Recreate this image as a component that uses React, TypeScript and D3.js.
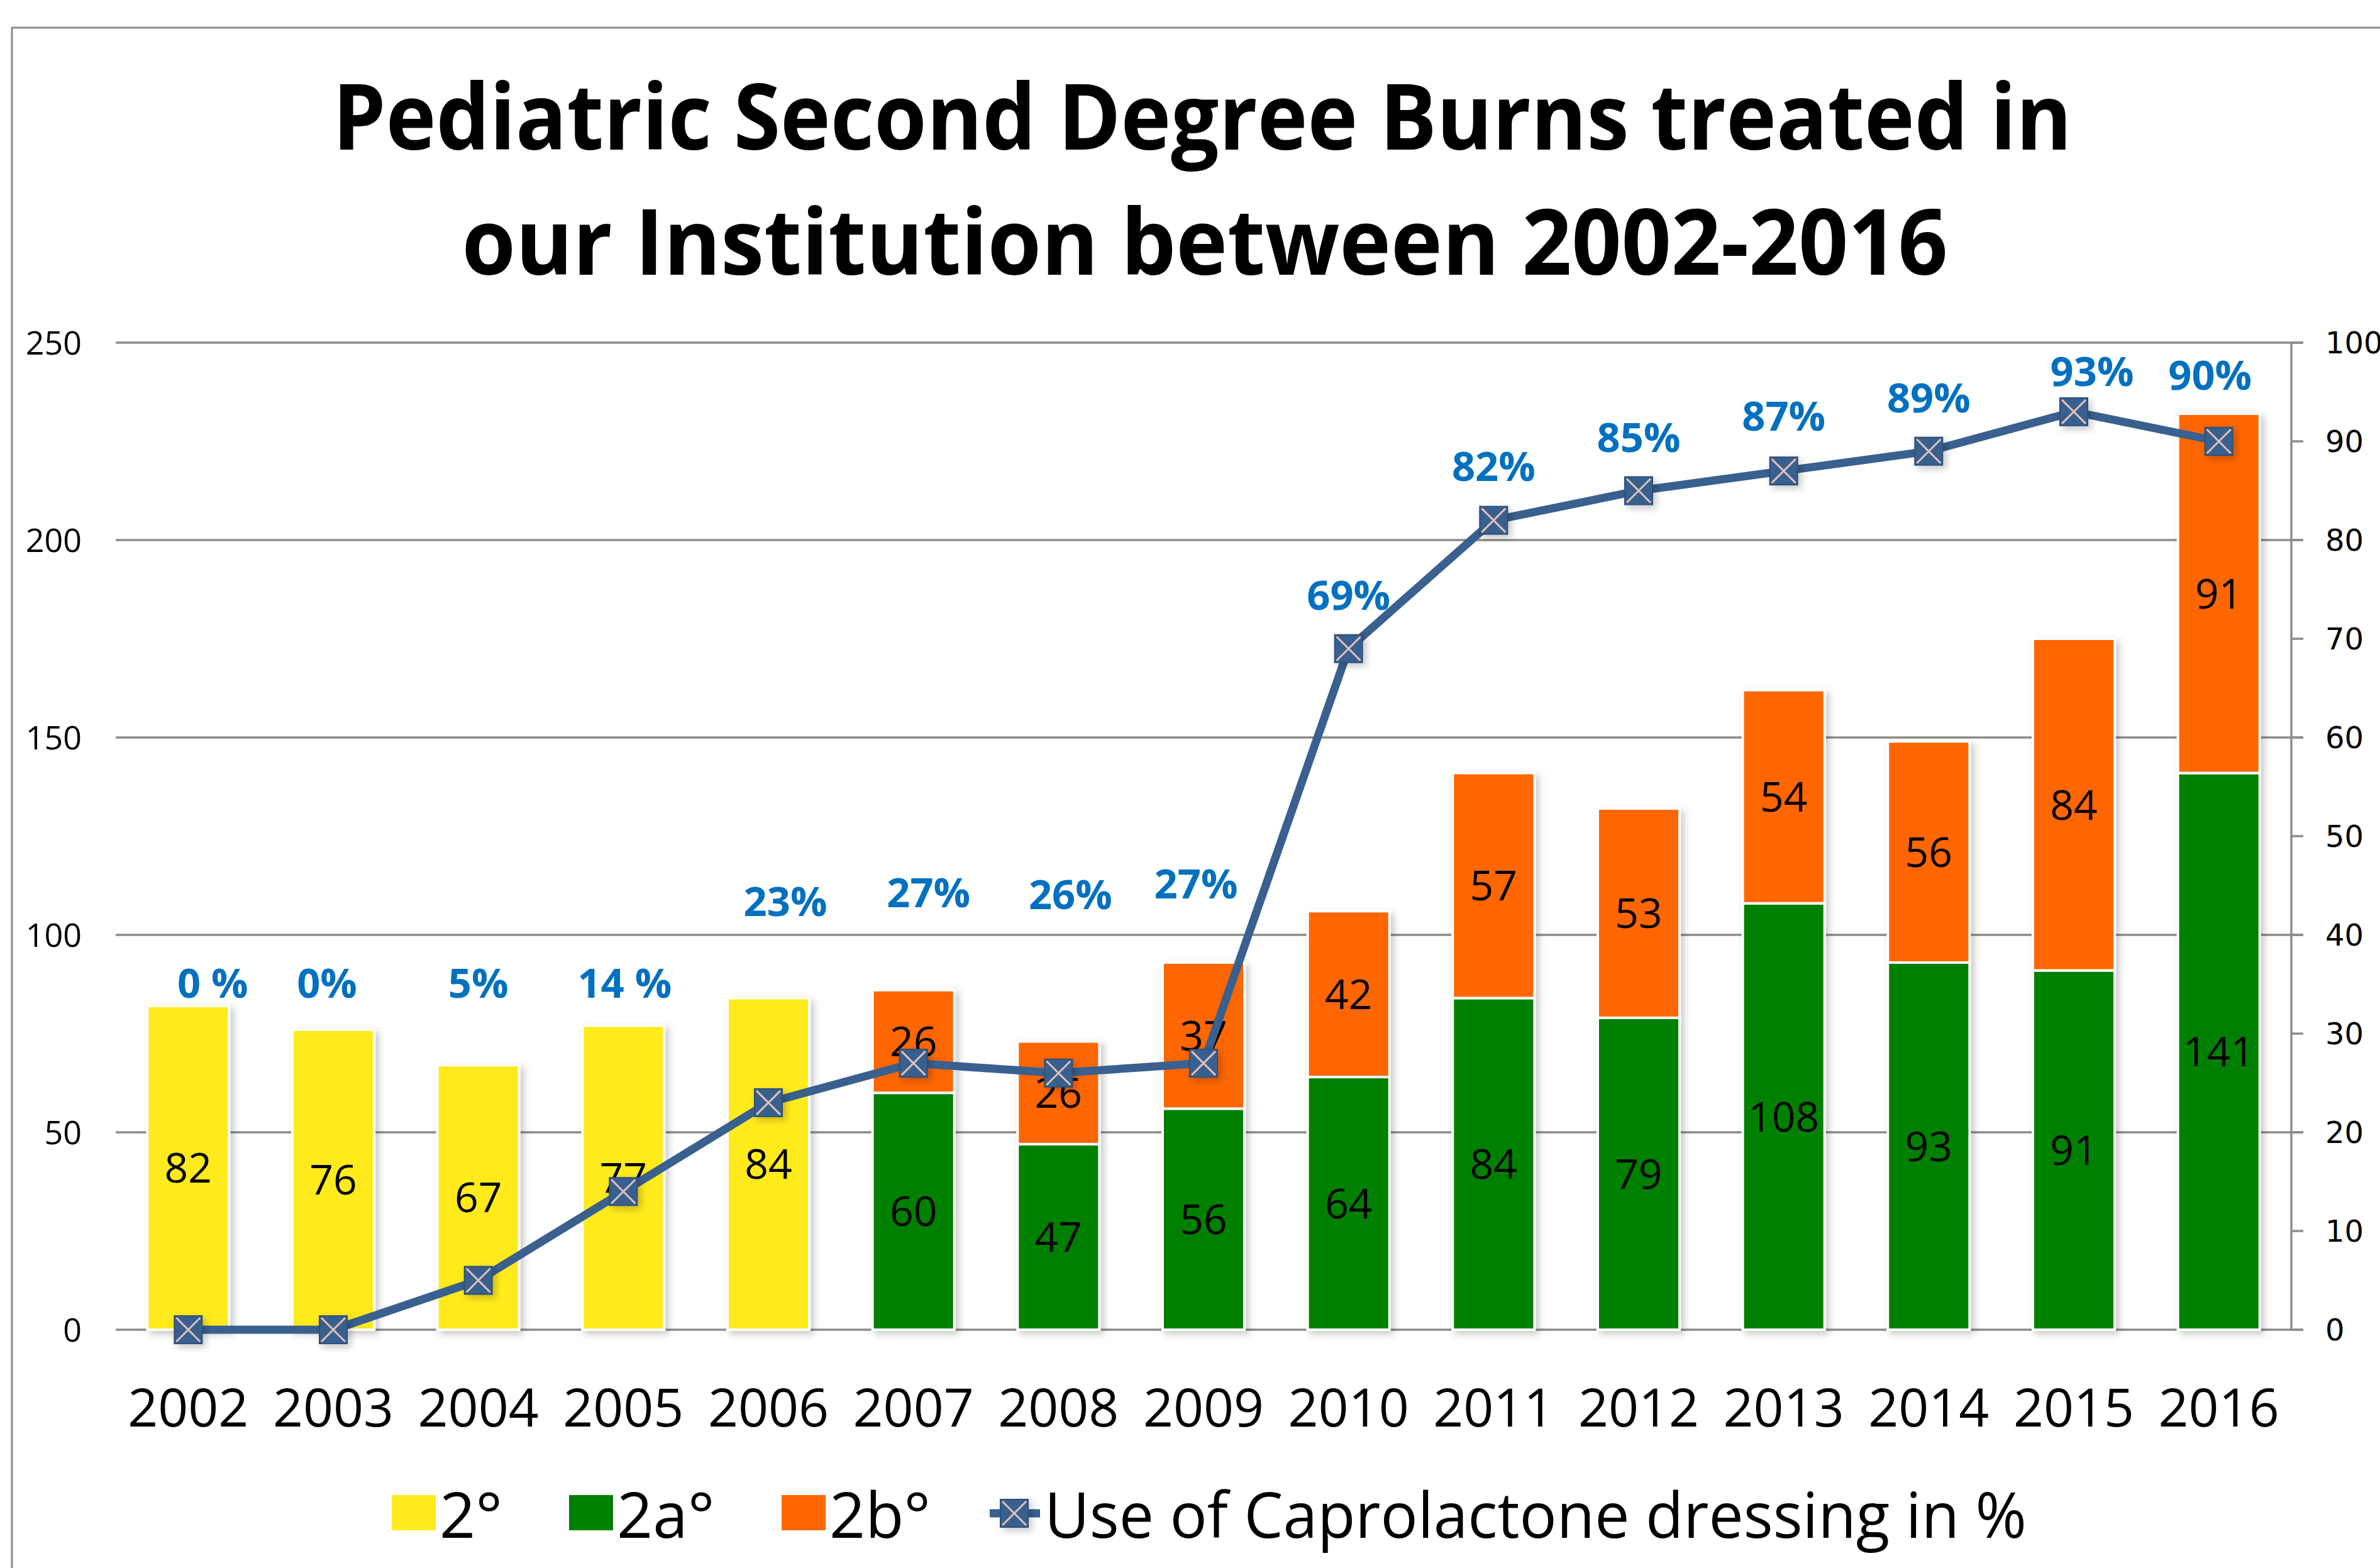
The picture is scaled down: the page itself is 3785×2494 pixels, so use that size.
import React, { useEffect, useRef } from "react";
import * as d3 from "d3";

const years = ["2002", "2003", "2004", "2005", "2006", "2007", "2008", "2009", "2010", "2011", "2012", "2013", "2014", "2015", "2016"];
const deg2 = [82, 76, 67, 77, 84, 0, 0, 0, 0, 0, 0, 0, 0, 0, 0];
const deg2a = [0, 0, 0, 0, 0, 60, 47, 56, 64, 84, 79, 108, 93, 91, 141];
const deg2b = [0, 0, 0, 0, 0, 26, 26, 37, 42, 57, 53, 54, 56, 84, 91];
const caproPct = [0, 0, 5, 14, 23, 27, 26, 27, 69, 82, 85, 87, 89, 93, 90];
const pctLabels = ["0 %", "0%", "5%", "14 %", "23%", "27%", "26%", "27%", "69%", "82%", "85%", "87%", "89%", "93%", "90%"];
const leftTicks = [0, 50, 100, 150, 200, 250];
const rightTicks = [0, 10, 20, 30, 40, 50, 60, 70, 80, 90, 100];

// where the hand-placed % callouts sit (in % axis units) and their nudge in px
const pctLabelLevel = [35.1, 35.1, 35.1, 35.1, 43.4, 44.3, 44.1, 45.2, 74.4, 87.5, 90.4, 92.6, 94.4, 97.1, 96.7];
const pctLabelDx = [39, -10, 0, 2, 27, 24, 19, -12, 0, 0, 0, 0, 0, 29, -14];

const W = 3785;
const H = 2494;
const FONT = "'Open Sans', 'Noto Sans', sans-serif";

const series = [
  { key: "2°", values: deg2, color: "#FFEA1F" },
  { key: "2a°", values: deg2a, color: "#008000" },
  { key: "2b°", values: deg2b, color: "#FF6600" },
];

export default function App() {
  const svgRef = useRef<SVGSVGElement>(null);

  useEffect(() => {
    const svg = d3.select(svgRef.current);
    svg.selectAll("*").remove();

    const left = 184, right = 3644, top = 545, bottom = 2115;

    const defs = svg.append("defs");
    const sh = defs.append("filter").attr("id", "shadow").attr("x", "-20%").attr("y", "-20%").attr("width", "150%").attr("height", "150%");
    sh.append("feDropShadow").attr("dx", 5).attr("dy", 5).attr("stdDeviation", 6)
      .attr("flood-color", "#000").attr("flood-opacity", 0.22);

    // frame
    svg.append("rect").attr("x", 19).attr("y", 44).attr("width", 4000).attr("height", 3000)
      .attr("fill", "white").attr("stroke", "#8c8c8c").attr("stroke-width", 3);

    const x = d3.scaleBand().domain(years).range([left, right]).paddingInner(0.436).paddingOuter(0.218);
    const y = d3.scaleLinear().domain([0, 250]).range([bottom, top]);
    const yr = d3.scaleLinear().domain([0, 100]).range([bottom, top]);

    // title
    const title = svg.append("g").attr("font-family", FONT).attr("font-weight", 700).attr("fill", "#000").attr("text-anchor", "middle");
    title.append("text").attr("x", 1912).attr("y", 238).attr("font-size", 146)
      .attr("textLength", 2766).attr("lengthAdjust", "spacingAndGlyphs")
      .text("Pediatric Second Degree Burns treated in");
    title.append("text").attr("x", 1916).attr("y", 437).attr("font-size", 146)
      .attr("textLength", 2363).attr("lengthAdjust", "spacingAndGlyphs")
      .text("our Institution between 2002-2016");

    // gridlines
    svg.append("g").selectAll("line").data(leftTicks).join("line")
      .attr("x1", left).attr("x2", right + 19)
      .attr("y1", d => y(d)).attr("y2", d => y(d))
      .attr("stroke", "#8c8c8c").attr("stroke-width", 3.5);

    // left axis labels
    svg.append("g").selectAll("text").data(leftTicks).join("text")
      .attr("x", 130).attr("y", d => y(d)).attr("dy", "0.36em")
      .attr("text-anchor", "end").attr("font-family", FONT).attr("font-size", 52)
      .text(d => d);

    // right axis
    const ra = svg.append("g");
    ra.append("line").attr("x1", right).attr("x2", right).attr("y1", yr(0)).attr("y2", yr(100))
      .attr("stroke", "#8c8c8c").attr("stroke-width", 3.5);
    ra.selectAll("line.t").data(rightTicks).join("line").attr("class", "t")
      .attr("x1", right).attr("x2", right + 19).attr("y1", d => yr(d)).attr("y2", d => yr(d))
      .attr("stroke", "#8c8c8c").attr("stroke-width", 3.5);
    ra.selectAll("text").data(rightTicks).join("text")
      .attr("x", 3698).attr("y", d => yr(d)).attr("dy", "0.36em")
      .attr("font-family", "'DejaVu Sans', sans-serif").attr("font-size", 48)
      .text(d => d);

    // stacked bars
    const rows = years.map((yr_, i) => ({ year: yr_, "2°": deg2[i], "2a°": deg2a[i], "2b°": deg2b[i] }));
    const stack = d3.stack<any>().keys(series.map(s => s.key))(rows);
    const bars = svg.append("g").attr("filter", "url(#shadow)");
    stack.forEach((layer, li) => {
      bars.append("g").selectAll("rect").data(layer.filter(d => d[1] - d[0] > 0)).join("rect")
        .attr("x", d => x(d.data.year)!)
        .attr("width", x.bandwidth())
        .attr("y", d => y(d[1]))
        .attr("height", d => y(d[0]) - y(d[1]))
        .attr("fill", series[li].color)
        .attr("stroke", "white").attr("stroke-width", 4);
    });

    // values inside bars
    const lbl = svg.append("g").attr("font-family", FONT).attr("font-size", 66).attr("text-anchor", "middle").attr("fill", "#000");
    stack.forEach(layer => {
      lbl.append("g").selectAll("text").data(layer.filter(d => d[1] - d[0] > 0)).join("text")
        .attr("x", d => x(d.data.year)! + x.bandwidth() / 2)
        .attr("y", d => y((d[0] + d[1]) / 2)).attr("dy", "0.36em")
        .text(d => d[1] - d[0]);
    });

    // caprolactone line
    const cx = (i: number) => x(years[i])! + x.bandwidth() / 2;
    const line = d3.line<number>().x((_, i) => cx(i)).y(d => yr(d));
    svg.append("path").datum(caproPct).attr("d", line)
      .attr("fill", "none").attr("stroke", "#39608F").attr("stroke-width", 13).attr("stroke-linejoin", "round");

    const marker = (g: any, mx: number, my: number) => {
      const s = 22;
      g.append("rect").attr("x", mx - s).attr("y", my - s).attr("width", 2 * s).attr("height", 2 * s)
        .attr("fill", "#39608F").attr("stroke", "#2f4f78").attr("stroke-width", 2).attr("filter", "url(#shadow)");
      g.append("path").attr("d", `M${mx - s + 3},${my - s + 3}L${mx + s - 3},${my + s - 3}M${mx + s - 3},${my - s + 3}L${mx - s + 3},${my + s - 3}`)
        .attr("stroke", "#E2C2B8").attr("stroke-width", 3);
    };
    const mg = svg.append("g");
    caproPct.forEach((d, i) => marker(mg, cx(i), yr(d)));

    // % callouts
    svg.append("g").selectAll("text").data(pctLabels).join("text")
      .attr("x", (_, i) => cx(i) + pctLabelDx[i])
      .attr("y", (_, i) => yr(pctLabelLevel[i])).attr("dy", "0.36em")
      .attr("text-anchor", "middle").attr("font-family", FONT).attr("font-weight", 700)
      .attr("font-size", 65).attr("fill", "#0070C0")
      .text(d => d);

    // x axis labels
    svg.append("g").selectAll("text").data(years).join("text")
      .attr("x", d => x(d)! + x.bandwidth() / 2).attr("y", 2269)
      .attr("text-anchor", "middle").attr("font-family", FONT).attr("font-size", 84)
      .text(d => d);

    // legend
    const lg = svg.append("g").attr("font-family", FONT).attr("font-size", 100);
    const sw = [623, 905, 1243];
    series.forEach((s, i) => {
      lg.append("rect").attr("x", sw[i]).attr("y", 2378).attr("width", 70).attr("height", 56).attr("fill", s.color);
      lg.append("text").attr("x", sw[i] + 76).attr("y", 2446).text(s.key);
    });
    lg.append("line").attr("x1", 1574).attr("x2", 1654).attr("y1", 2407).attr("y2", 2407)
      .attr("stroke", "#39608F").attr("stroke-width", 13);
    marker(lg, 1613, 2407);
    lg.append("text").attr("x", 1661).attr("y", 2446)
      .attr("textLength", 1562).attr("lengthAdjust", "spacingAndGlyphs")
      .text("Use of Caprolactone dressing in %");
  }, []);

  return (
    <svg ref={svgRef} width={W} height={H}
      style={{ position: "absolute", left: 0, top: 0, background: "white" }} />
  );
}
